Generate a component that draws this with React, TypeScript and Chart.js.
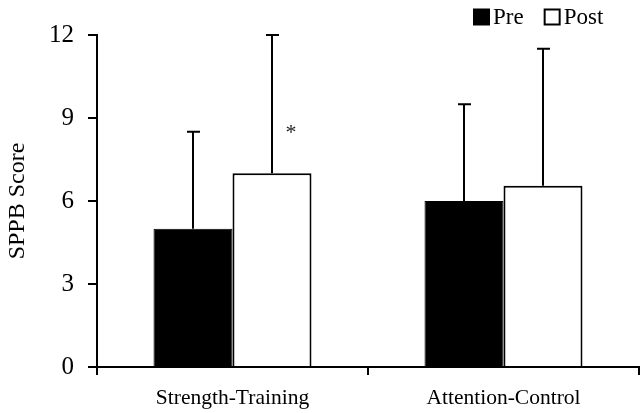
import React, { useEffect, useRef } from "react";
import { Chart, registerables } from "chart.js";

Chart.register(...registerables);

const categories = ["Strength-Training", "Attention-Control"];
const seriesNames = ["Pre", "Post"];
const preValues = [5, 6];
const postValues = [7, 6.55];
const preSD = [3.5, 3.5];
const postSD = [5, 4.95];
const yTicks = [0, 3, 6, 9, 12];
const sigMarks = [{ category: 0, series: 1, text: "*", value: 8.6 }];

const FONT = "'Liberation Serif', 'Times New Roman', serif";

const errorBarPlugin = {
  id: "errorBars",
  afterDatasetsDraw(chart: any) {
    const ctx = chart.ctx;
    const yScale = chart.scales.y;
    const sds = [preSD, postSD];
    ctx.save();
    ctx.strokeStyle = "#000";
    ctx.lineWidth = 2;
    chart.data.datasets.forEach((ds: any, di: number) => {
      const meta = chart.getDatasetMeta(di);
      meta.data.forEach((bar: any, i: number) => {
        const v = ds.data[i];
        const top = yScale.getPixelForValue(v + sds[di][i]);
        const x = Math.round(bar.x);
        ctx.beginPath();
        ctx.moveTo(x, bar.y);
        ctx.lineTo(x, top);
        ctx.moveTo(x - 6, top);
        ctx.lineTo(x + 7, top);
        ctx.stroke();
      });
    });
    ctx.fillStyle = "#222";
    ctx.font = `22px ${FONT}`;
    ctx.textAlign = "center";
    ctx.textBaseline = "middle";
    sigMarks.forEach((m) => {
      const bar: any = chart.getDatasetMeta(m.series).data[m.category];
      const x = bar.x + bar.width * 0.24;
      const y = yScale.getPixelForValue(m.value);
      ctx.fillText(m.text, x, y + 4);
    });
    ctx.restore();
  },
};

const legendPlugin = {
  id: "customLegend",
  afterDraw(chart: any) {
    const ctx = chart.ctx;
    ctx.save();
    ctx.font = `23px ${FONT}`;
    ctx.textBaseline = "middle";
    ctx.textAlign = "left";
    const cy = 17;
    let x = 473;
    chart.data.datasets.forEach((ds: any, i: number) => {
      const box = 17;
      if (i === 0) {
        ctx.fillStyle = "#000";
        ctx.fillRect(x, cy - box / 2, box, box);
      } else {
        ctx.fillStyle = "#fff";
        ctx.fillRect(x, cy - box / 2, box, box);
        ctx.strokeStyle = "#000";
        ctx.lineWidth = 2;
        ctx.strokeRect(x + 1, cy - box / 2 + 1, box - 2, box - 2);
      }
      ctx.fillStyle = "#000";
      ctx.fillText(ds.label, x + box + 3, cy + 1);
      x += box + 3 + ctx.measureText(ds.label).width + 20;
    });
    ctx.restore();
  },
};

export default function App() {
  const ref = useRef<HTMLCanvasElement>(null);
  useEffect(() => {
    document.body.style.margin = "0";
    const chart = new Chart(ref.current as HTMLCanvasElement, {
      type: "bar",
      data: {
        labels: categories,
        datasets: [
          {
            label: seriesNames[0],
            data: preValues,
            backgroundColor: "#000",
            borderColor: "#000",
            borderWidth: 1,
            categoryPercentage: 0.583,
            barPercentage: 1.0,
          },
          {
            label: seriesNames[1],
            data: postValues,
            backgroundColor: "#fff",
            borderColor: "#000",
            borderWidth: 2,
            categoryPercentage: 0.583,
            barPercentage: 1.0,
          },
        ],
      },
      options: {
        animation: false,
        responsive: false,
        layout: { padding: { top: 35, right: 1, left: 0, bottom: 0 } },
        plugins: { legend: { display: false }, tooltip: { enabled: false } },
        scales: {
          x: {
            offset: true,
            border: { display: true, color: "#000", width: 2 },
            grid: {
              offset: true,
              drawOnChartArea: false,
              drawTicks: true,
              tickLength: 8,
              color: "#000",
              lineWidth: 2,
            },
            ticks: { color: "#000", font: { family: FONT, size: 21.5 }, padding: 10 },
            afterFit(scale: any) {
              scale.height = 46;
            },
          },
          y: {
            min: 0,
            max: 12,
            border: { display: true, color: "#000", width: 2 },
            grid: {
              drawOnChartArea: false,
              drawTicks: true,
              tickLength: 9,
              color: "#000",
              lineWidth: 2,
            },
            afterBuildTicks(scale: any) {
              scale.ticks = yTicks.map((v) => ({ value: v }));
            },
            ticks: { color: "#000", font: { family: FONT, size: 25 }, padding: 14 },
            title: {
              display: true,
              text: "SPPB Score",
              color: "#000",
              font: { family: FONT, size: 24 },
              padding: { top: 3, bottom: 0 },
            },
            afterFit(scale: any) {
              scale.width = 97;
            },
          },
        },
      },
      plugins: [errorBarPlugin, legendPlugin],
    } as any);
    return () => chart.destroy();
  }, []);
  return <canvas ref={ref} width={640} height={413} style={{ display: "block" }} />;
}
